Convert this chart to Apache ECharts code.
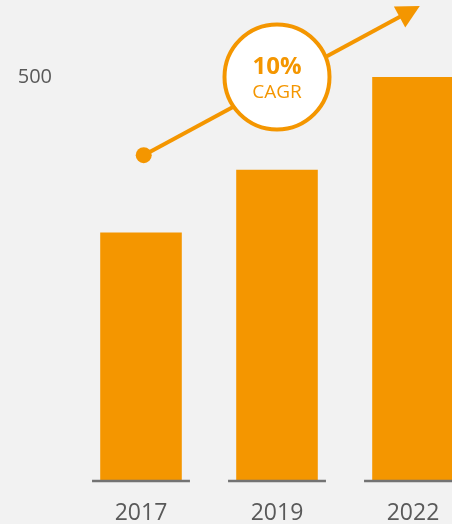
<!DOCTYPE html>
<html>
<head>
<meta charset="utf-8">
<script src="https://cdn.jsdelivr.net/npm/echarts@6/dist/echarts.min.js"></script>
<style>
  html, body { margin: 0; padding: 0; background: #f2f2f2; }
  #chart { width: 452px; height: 524px; }
</style>
</head>
<body>
<div id="chart"></div>
<script>
// Market size by year
const years = ['2017', '2019', '2022'];
const values = [307, 385, 500];
const yTicks = [0, 500];

// Growth arrow: start dot and arrow head in (category position, value) units
const arrowStart = [0.02, 403];
const arrowEnd = [2.05, 588];
// CAGR badge position and text
const badgePos = [1, 500];
const cagrValue = '10%';
const cagrLabel = 'CAGR';

const ORANGE = '#f49600';
const GREY = '#595959';
const FONT = 'Open Sans, Noto Sans, sans-serif';

const chart = echarts.init(document.getElementById('chart'), null, { renderer: 'canvas' });

chart.setOption({
  backgroundColor: '#f2f2f2',
  animation: false,
  grid: { left: 73, width: 408, top: 77, bottom: 44, containLabel: false, outerBoundsMode: 'none' },
  xAxis: [
    {
      type: 'category',
      data: years,
      axisLine: { show: false },
      axisTick: { show: false },
      axisLabel: { color: GREY, fontSize: 23, fontFamily: FONT, margin: 22 }
    },
    {
      type: 'value',
      min: -0.5,
      max: 2.5,
      show: false
    }
  ],
  yAxis: {
    type: 'value',
    min: yTicks[0],
    max: yTicks[yTicks.length - 1],
    interval: yTicks[1] - yTicks[0],
    splitLine: { show: false },
    axisLine: { show: false },
    axisTick: { show: false },
    axisLabel: {
      color: GREY, fontSize: 20, fontFamily: FONT, margin: 21,
      showMinLabel: false
    }
  },
  series: [
    {
      type: 'bar',
      data: values,
      barWidth: '60%',
      itemStyle: { color: ORANGE },
      z: 2
    },
    {
      // short grey base line under each bar
      type: 'custom',
      data: values.map((v, i) => [i, 0]),
      renderItem: function (params, api) {
        const p = api.coord([api.value(0), 0]);
        const w = api.size([1, 0])[0] * 0.72;
        return {
          type: 'line',
          shape: { x1: p[0] - w / 2, y1: p[1] + 1, x2: p[0] + w / 2, y2: p[1] + 1 },
          style: { stroke: '#737373', lineWidth: 2.5 }
        };
      },
      z: 3
    },
    {
      // growth arrow: dot, shaft and triangular head
      type: 'custom',
      xAxisIndex: 1,
      data: [[arrowStart[0], arrowStart[1], arrowEnd[0], arrowEnd[1]]],
      renderItem: function (params, api) {
        const a = api.coord([api.value(0), api.value(1)]);
        const b = api.coord([api.value(2), api.value(3)]);
        const dx = b[0] - a[0], dy = b[1] - a[1];
        const len = Math.sqrt(dx * dx + dy * dy);
        const ux = dx / len, uy = dy / len;
        const head = 23, half = 12;
        const bx = b[0] - ux * head, by = b[1] - uy * head;
        return {
          type: 'group',
          children: [
            {
              type: 'line',
              shape: { x1: a[0], y1: a[1], x2: bx + ux * 2, y2: by + uy * 2 },
              style: { stroke: ORANGE, lineWidth: 4 }
            },
            {
              type: 'circle',
              shape: { cx: a[0], cy: a[1], r: 8 },
              style: { fill: ORANGE }
            },
            {
              type: 'polygon',
              shape: {
                points: [
                  [b[0], b[1]],
                  [bx - uy * half, by + ux * half],
                  [bx + uy * half, by - ux * half]
                ]
              },
              style: { fill: ORANGE }
            }
          ]
        };
      },
      z: 4
    },
    {
      // CAGR badge
      type: 'scatter',
      xAxisIndex: 1,
      clip: false,
      data: [badgePos],
      symbol: 'circle',
      symbolSize: 105,
      itemStyle: { color: '#ffffff', borderColor: ORANGE, borderWidth: 4, opacity: 1 },
      label: {
        show: true,
        position: 'inside',
        offset: [0, 2],
        formatter: '{a|' + cagrValue + '}\n{b|' + cagrLabel + '}',
        rich: {
          a: { color: ORANGE, fontSize: 24, fontWeight: 'bold', fontFamily: FONT, lineHeight: 28 },
          b: { color: ORANGE, fontSize: 19, fontFamily: FONT, lineHeight: 24 }
        }
      },
      z: 10
    }
  ]
});
</script>
</body>
</html>
